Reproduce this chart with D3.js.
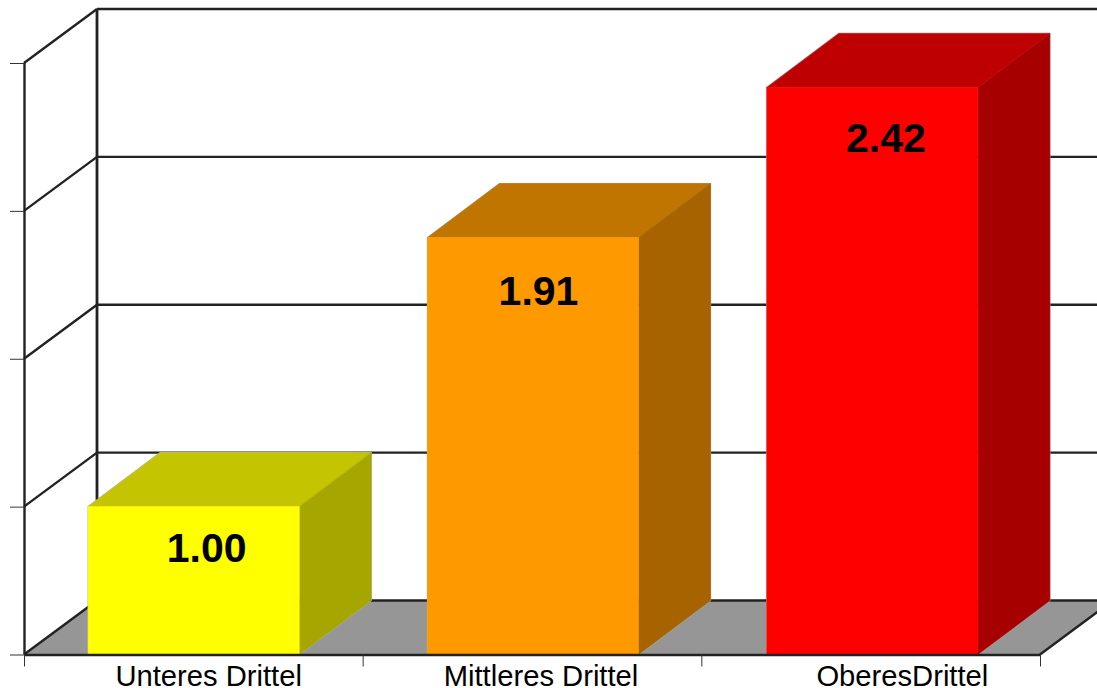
<!DOCTYPE html>
<html>
<head>
<meta charset="utf-8">
<script src="https://cdn.jsdelivr.net/npm/d3@7/dist/d3.min.js"></script>
<style>html,body{margin:0;padding:0;background:#fff;overflow:hidden}svg{display:block}</style>
</head>
<body>
<svg id="c" width="1097" height="688"></svg>
<script>
const categories = ["Unteres Drittel", "Mittleres Drittel", "OberesDrittel"];
const valueLabels = ["1.00", "1.91", "2.42"];
// Bar heights as drawn, read against the unlabelled axis ticks
const drawnHeights = [1.0, 2.82, 3.835];
const yTicks = [0, 1, 2, 3, 4];
const frontColors = ["#ffff00", "#ff9900", "#ff0000"];
const topColors = ["#c4c400", "#c07500", "#bf0000"];
const sideColors = ["#a6a600", "#a66300", "#a60000"];

// layout
const W = 1097, H = 688;
const dx = 73, dy = -54, barDx = 72;
const x0 = 24, x1 = 1040, yBase = 654.5, yTop = 63;
const catLabelShift = [15, 8, 30];
const valLabelShift = [13, 5.5, 13.5];
const valLabelBelowTop = [55, 67.5, 65];
const ink = "#222";

const svg = d3.select("#c");
const x = d3.scaleBand().domain(categories).range([x0, x1])
  .paddingInner(0.378).paddingOuter(0.186).align(0.508);
const y = d3.scaleLinear().domain([0, 4]).range([yBase, yTop]);
const tickPos = d3.scaleLinear().domain([0, 3]).range([x0, x1]);

// floor
svg.append("path")
  .attr("d", d3.line()([[x0, yBase], [x0 + dx, yBase + dy], [x1 + dx, yBase + dy], [x1, yBase]]) + "Z")
  .attr("fill", "#969696");

// back wall grid
svg.append("g").selectAll("line").data(yTicks).join("line")
  .attr("x1", x0 + dx).attr("x2", W)
  .attr("y1", d => y(d) + dy).attr("y2", d => y(d) + dy)
  .attr("stroke", ink).attr("stroke-width", 2.4);
// side wall diagonals
svg.append("g").selectAll("line").data(yTicks).join("line")
  .attr("x1", x0).attr("x2", x0 + dx)
  .attr("y1", d => y(d)).attr("y2", d => y(d) + dy)
  .attr("stroke", ink).attr("stroke-width", 2.4);
// back wall vertical
svg.append("line").attr("x1", x0 + dx).attr("x2", x0 + dx)
  .attr("y1", y(4) + dy).attr("y2", y(0) + dy)
  .attr("stroke", ink).attr("stroke-width", 2.8);
// floor right edge
svg.append("line").attr("x1", x1).attr("x2", x1 + dx)
  .attr("y1", yBase).attr("y2", yBase + dy)
  .attr("stroke", ink).attr("stroke-width", 2.4);

// axes
const gy = svg.append("g").attr("transform", `translate(${x0},0)`)
  .call(d3.axisLeft(y).tickValues(yTicks).tickSize(14).tickFormat(""));
gy.selectAll(".tick line").attr("stroke", "#333").attr("stroke-width", 1);
gy.select(".domain").attr("d", `M0.5,${yTop}V${yBase}`).attr("stroke", ink).attr("stroke-width", 2.4);

// bars
const bars = svg.append("g").selectAll("g").data(categories).join("g");
bars.append("path").attr("fill", "none").attr("stroke", "#b0b0b0").attr("stroke-width", 1.2)
  .attr("d", (d, i) => {
    const l = x(d), r = l + x.bandwidth(), t = y(drawnHeights[i]);
    return d3.line()([[l, yBase], [l, t], [l + barDx, t + dy], [r + barDx, t + dy], [r + barDx, yBase + dy], [r, yBase]]);
  });
bars.append("path").attr("fill", (d, i) => topColors[i])
  .attr("stroke", (d, i) => topColors[i]).attr("stroke-width", 0.5)
  .attr("d", (d, i) => {
    const l = x(d), r = l + x.bandwidth(), t = y(drawnHeights[i]);
    return d3.line()([[l, t], [l + barDx, t + dy], [r + barDx, t + dy], [r, t]]) + "Z";
  });
bars.append("path").attr("fill", (d, i) => sideColors[i])
  .attr("stroke", (d, i) => sideColors[i]).attr("stroke-width", 0.5)
  .attr("d", (d, i) => {
    const r = x(d) + x.bandwidth(), t = y(drawnHeights[i]);
    return d3.line()([[r, t], [r + barDx, t + dy], [r + barDx, yBase + dy], [r, yBase]]) + "Z";
  });
bars.append("rect").attr("fill", (d, i) => frontColors[i])
  .attr("stroke", (d, i) => frontColors[i]).attr("stroke-width", 0.5)
  .attr("x", d => x(d)).attr("width", x.bandwidth())
  .attr("y", (d, i) => y(drawnHeights[i])).attr("height", (d, i) => yBase - y(drawnHeights[i]));

// bottom axis on top of bars
const gx = svg.append("g").attr("transform", `translate(0,${yBase})`)
  .call(d3.axisBottom(tickPos).tickValues(d3.range(4)).tickFormat("").tickSize(12).tickSizeOuter(0));
gx.selectAll(".tick line").attr("stroke", "#333").attr("stroke-width", 1);
gx.select(".domain").attr("stroke", ink).attr("stroke-width", 2.4);

// text
svg.append("g").selectAll("text").data(categories).join("text")
  .attr("x", (d, i) => x(d) + x.bandwidth() / 2 + catLabelShift[i])
  .attr("y", 685.5)
  .attr("text-anchor", "middle")
  .attr("font-family", "'Liberation Sans', Arial, sans-serif")
  .attr("font-size", 29.2)
  .attr("fill", "#000")
  .text(d => d);
svg.append("g").selectAll("text").data(valueLabels).join("text")
  .attr("x", (d, i) => x(categories[i]) + x.bandwidth() / 2 + valLabelShift[i])
  .attr("y", (d, i) => y(drawnHeights[i]) + valLabelBelowTop[i])
  .attr("text-anchor", "middle")
  .attr("font-family", "'Liberation Sans', Arial, sans-serif")
  .attr("font-weight", "bold")
  .attr("font-size", 41)
  .attr("fill", "#000")
  .text(d => d);
</script>
</body>
</html>
